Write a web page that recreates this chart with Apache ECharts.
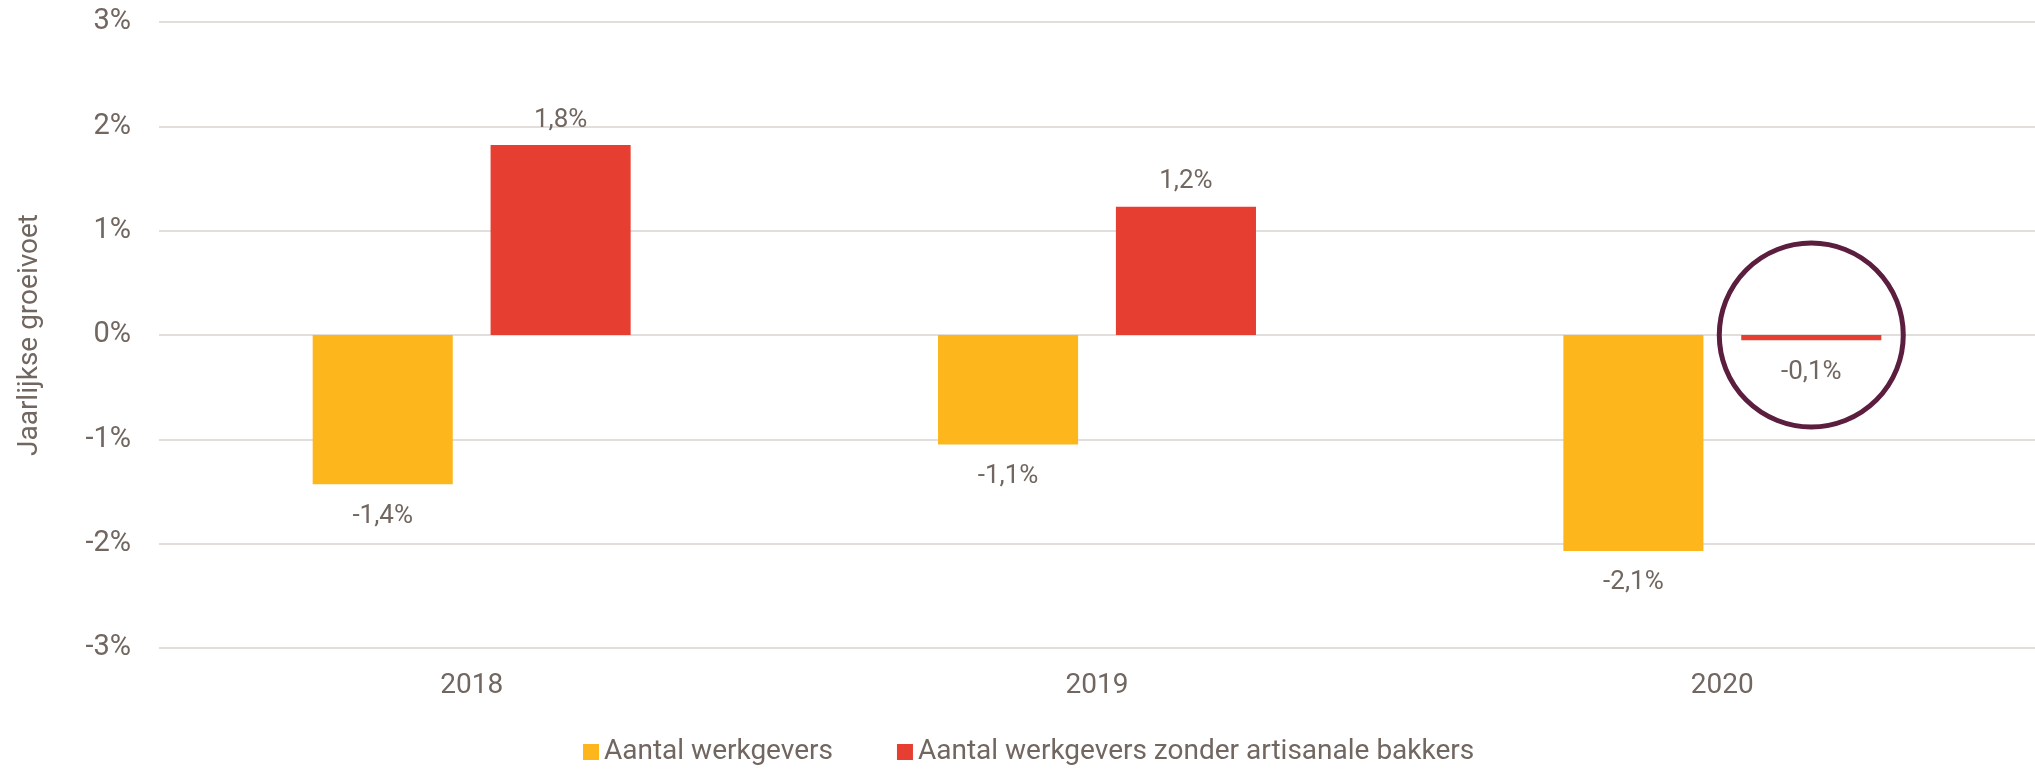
<!DOCTYPE html>
<html>
<head>
<meta charset="utf-8">
<title>Jaarlijkse groeivoet</title>
<script src="https://cdn.jsdelivr.net/npm/echarts@6/dist/echarts.min.js"></script>
<style>
  html, body { margin: 0; padding: 0; background: #fff; }
  #chart { width: 2035px; height: 772px; }
</style>
</head>
<body>
<div id="chart"></div>
<script>
(function () {
  'use strict';

  const years = ['2018', '2019', '2020'];
  const werkgevers = [-1.43, -1.05, -2.07];
  const zonderBakkers = [1.82, 1.23, -0.05];
  const seriesNames = ['Aantal werkgevers', 'Aantal werkgevers zonder artisanale bakkers'];

  const TEXT = '#716660';
  const FONT = 'Roboto, "Liberation Sans", sans-serif';

  function pct(v) {
    return v.toFixed(1).replace('.', ',') + '%';
  }

  // negative bars get their label under the bar
  function withLabels(values) {
    return values.map(function (v) {
      return {
        value: v,
        label: v < 0 ? { position: 'bottom', distance: 19 } : { position: 'top', distance: 12 }
      };
    });
  }

  const barLabel = {
    show: true,
    color: TEXT,
    fontFamily: FONT,
    fontSize: 26,
    formatter: function (p) { return pct(p.value); }
  };

  const chart = echarts.init(document.getElementById('chart'));

  chart.setOption({
    animation: false,
    textStyle: { fontFamily: FONT, color: TEXT },
    grid: { left: 159, right: 0, top: 22, bottom: 124 },
    legend: {
      bottom: 1,
      left: 578,
      itemWidth: 16,
      itemHeight: 16,
      itemGap: 64,
      icon: 'rect',
      textStyle: { color: TEXT, fontFamily: FONT, fontSize: 28 },
      data: seriesNames
    },
    xAxis: {
      type: 'category',
      data: years,
      axisLine: { show: false },
      axisTick: { show: false },
      axisLabel: { color: TEXT, fontSize: 28, margin: 24 }
    },
    yAxis: {
      type: 'value',
      min: -3,
      max: 3,
      interval: 1,
      name: 'Jaarlijkse groeivoet',
      nameLocation: 'middle',
      nameGap: 115,
      nameTextStyle: { color: TEXT, fontSize: 28, fontFamily: '"Liberation Sans Narrow", Roboto, sans-serif' },
      axisLine: { show: false },
      axisTick: { show: false },
      axisLabel: { color: TEXT, fontSize: 29, margin: 28, formatter: function (v) { return v + '%'; } },
      splitLine: { lineStyle: { color: '#e2dedc', width: 2 } }
    },
    series: [
      {
        name: seriesNames[0],
        type: 'bar',
        barWidth: '22.4%',
        barGap: '27%',
        itemStyle: { color: '#FDB71D' },
        label: barLabel,
        data: withLabels(werkgevers)
      },
      {
        name: seriesNames[1],
        type: 'bar',
        barWidth: '22.4%',
        barGap: '27%',
        itemStyle: { color: '#E63E31' },
        label: barLabel,
        data: withLabels(zonderBakkers),
        markPoint: {
          symbol: 'circle',
          symbolSize: 184,
          silent: true,
          label: { show: false },
          itemStyle: { color: 'rgba(0,0,0,0)', borderColor: '#5B1E3F', borderWidth: 5 },
          data: [{ coord: ['2020', 0] }]
        }
      }
    ]
  });
})();
</script>
</body>
</html>
